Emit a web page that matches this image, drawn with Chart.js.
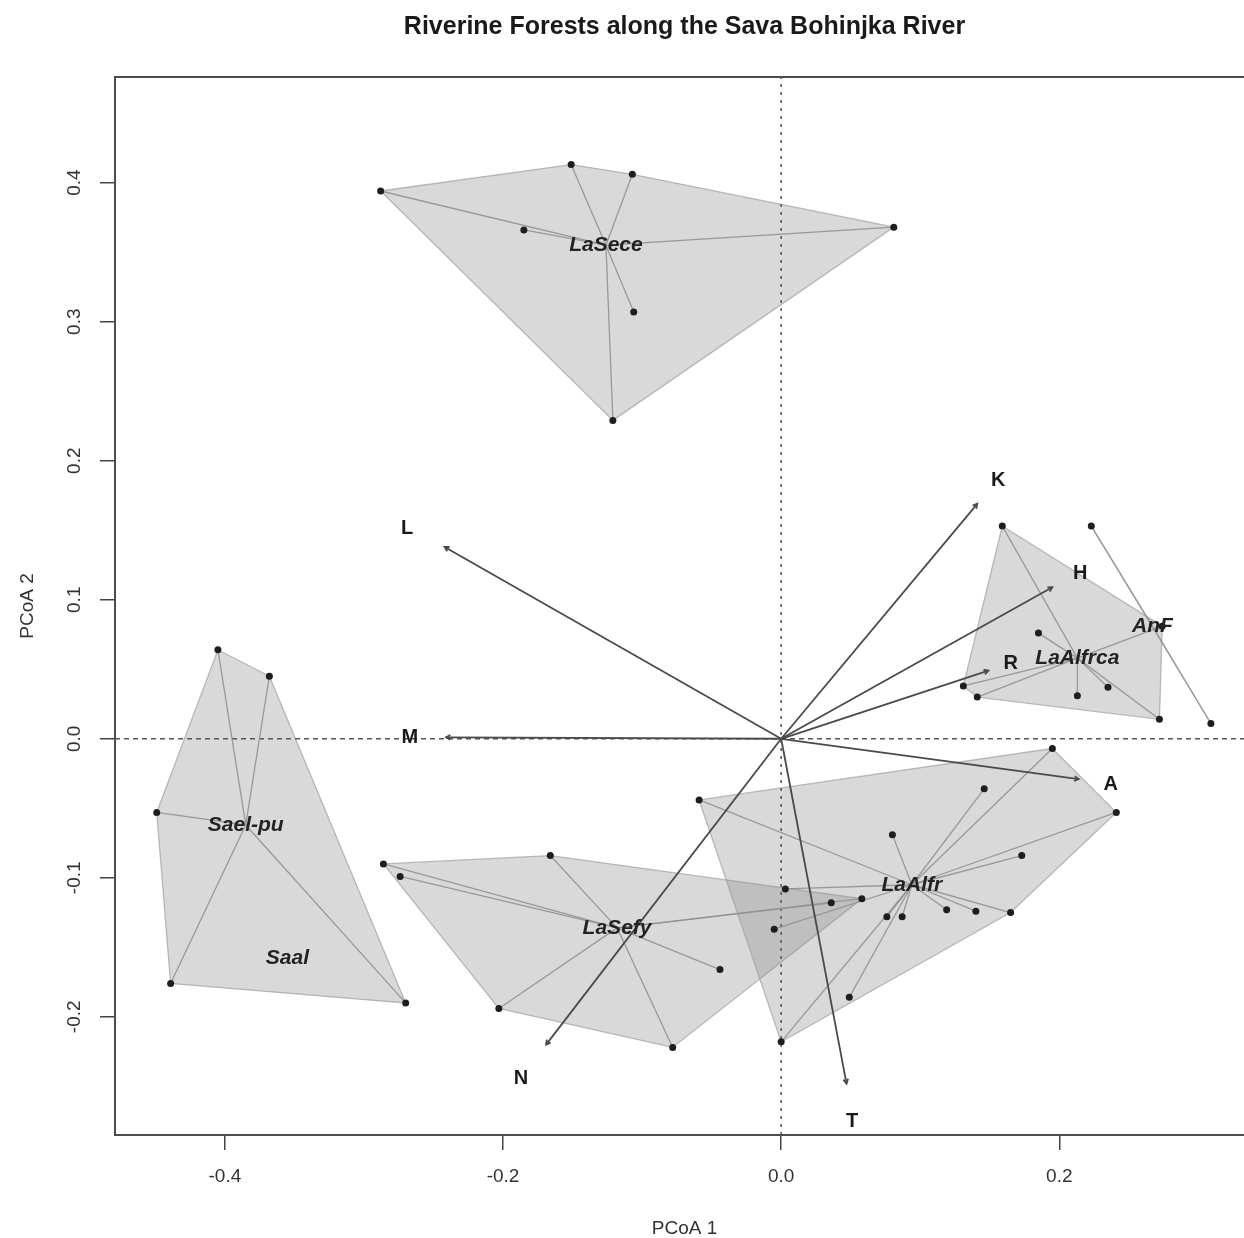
<!DOCTYPE html>
<html lang="en">
<head>
<meta charset="UTF-8" />
<title>Riverine Forests along the Sava Bohinjka River</title>
<script src="https://cdn.jsdelivr.net/npm/chart.js"></script>
<style>
  html, body { margin: 0; padding: 0; overflow: hidden; background: #fff; }
  #wrap { width: 1270px; height: 1238px; }
</style>
</head>
<body>
<div id="wrap"><canvas id="pcoa"></canvas></div>
<script>
// site scores per forest type (PCoA 1, PCoA 2)
const groupNames = ["LaSece", "LaAlfrca", "AnF", "LaAlfr", "LaSefy", "Sael-pu", "Saal"];

const laSeceX = [-0.288, -0.151, -0.107, -0.185, 0.081, -0.106, -0.121];
const laSeceY = [0.394, 0.413, 0.406, 0.366, 0.368, 0.307, 0.229];

const laAlfrcaX = [0.159, 0.185, 0.131, 0.141, 0.213, 0.235, 0.272, 0.274];
const laAlfrcaY = [0.153, 0.076, 0.038, 0.030, 0.031, 0.037, 0.014, 0.081];

const anfX = [0.223, 0.309];
const anfY = [0.153, 0.011];

const laAlfrX = [-0.059, 0.195, 0.241, 0.146, 0.080, 0.173, 0.003, -0.005, 0.076, 0.087, 0.119, 0.140, 0.165, 0.049, 0.000];
const laAlfrY = [-0.044, -0.007, -0.053, -0.036, -0.069, -0.084, -0.108, -0.137, -0.128, -0.128, -0.123, -0.124, -0.125, -0.186, -0.218];

const laSefyX = [-0.286, -0.274, -0.166, -0.203, -0.078, -0.044, 0.036, 0.058];
const laSefyY = [-0.090, -0.099, -0.084, -0.194, -0.222, -0.166, -0.118, -0.115];

const saelPuX = [-0.405, -0.368, -0.449, -0.439, -0.270];
const saelPuY = [0.064, 0.045, -0.053, -0.176, -0.190];

const saalX = [];
const saalY = [];

// group centroids (label positions)
const centroidX = [-0.126, 0.213, 0.267, 0.094, -0.118, -0.385, -0.355];
const centroidY = [0.355, 0.058, 0.081, -0.105, -0.136, -0.062, -0.158];

// fitted environmental vectors
const vectorNames = ["K", "H", "R", "A", "T", "N", "M", "L"];
const vectorX = [0.141, 0.195, 0.149, 0.214, 0.047, -0.169, -0.241, -0.242];
const vectorY = [0.169, 0.109, 0.049, -0.029, -0.248, -0.220, 0.001, 0.138];
const vectorLabelX = [0.156, 0.215, 0.165, 0.237, 0.051, -0.187, -0.267, -0.269];
const vectorLabelY = [0.186, 0.119, 0.054, -0.033, -0.275, -0.244, 0.001, 0.151];

const xTicks = [-0.4, -0.2, 0.0, 0.2];
const yTicks = [-0.2, -0.1, 0.0, 0.1, 0.2, 0.3, 0.4];
const xRange = [-0.479, 0.340];
const yRange = [-0.285, 0.476];

const groupX = [laSeceX, laAlfrcaX, anfX, laAlfrX, laSefyX, saelPuX, saalX];
const groupY = [laSeceY, laAlfrcaY, anfY, laAlfrY, laSefyY, saelPuY, saalY];

function hull(pts) {
  const p = pts.slice().sort((a, b) => a.x - b.x || a.y - b.y);
  if (p.length < 3) return p;
  const cross = (o, a, b) => (a.x - o.x) * (b.y - o.y) - (a.y - o.y) * (b.x - o.x);
  const lower = [], upper = [];
  for (const q of p) {
    while (lower.length >= 2 && cross(lower[lower.length - 2], lower[lower.length - 1], q) <= 0) lower.pop();
    lower.push(q);
  }
  for (let i = p.length - 1; i >= 0; i--) {
    const q = p[i];
    while (upper.length >= 2 && cross(upper[upper.length - 2], upper[upper.length - 1], q) <= 0) upper.pop();
    upper.push(q);
  }
  upper.pop(); lower.pop();
  return lower.concat(upper);
}

const datasets = [];
const allSites = [];

groupNames.forEach((name, g) => {
  const pts = groupX[g].map((x, i) => ({ x: x, y: groupY[g][i] }));
  allSites.push(...pts);
  if (pts.length >= 2) {
    const h = hull(pts);
    datasets.push({
      data: h.concat([h[0]]),
      fill: 'shape',
      backgroundColor: 'rgba(128,128,128,0.3)',
      borderColor: 'rgba(160,160,160,0.7)',
      borderWidth: 1.3,
      pointRadius: 0,
      order: 6
    });
  }
  const c = { x: centroidX[g], y: centroidY[g] };
  pts.forEach(p => {
    datasets.push({
      data: [c, p],
      borderColor: 'rgba(145,145,145,0.9)',
      borderWidth: 1.3,
      pointRadius: 0,
      order: 4
    });
  });
});

// zero lines
datasets.push({
  data: [{ x: xRange[0], y: 0 }, { x: xRange[1], y: 0 }],
  borderColor: '#555', borderWidth: 1.5, borderDash: [5, 4], pointRadius: 0, order: 5
});
datasets.push({
  data: [{ x: 0, y: yRange[0] }, { x: 0, y: yRange[1] }],
  borderColor: '#555', borderWidth: 1.5, borderDash: [3, 5], pointRadius: 0, order: 5
});

vectorNames.forEach((n, i) => {
  datasets.push({
    data: [{ x: 0, y: 0 }, { x: vectorX[i], y: vectorY[i] }],
    borderColor: '#4a4a4a', borderWidth: 1.8, pointRadius: 0, order: 3
  });
});

datasets.push({
  data: allSites,
  showLine: false,
  pointRadius: 3.5,
  pointBackgroundColor: '#1e1e1e',
  pointBorderWidth: 0,
  order: 2
});

const decor = {
  id: 'decor',
  afterDatasetsDraw(chart) {
    const { ctx, scales: { x, y } } = chart;
    ctx.save();
    // small arrow heads
    ctx.strokeStyle = '#4a4a4a';
    ctx.lineWidth = 1.8;
    vectorNames.forEach((n, i) => {
      const x0 = x.getPixelForValue(0), y0 = y.getPixelForValue(0);
      const x1 = x.getPixelForValue(vectorX[i]), y1 = y.getPixelForValue(vectorY[i]);
      const a = Math.atan2(y1 - y0, x1 - x0);
      ctx.beginPath();
      ctx.moveTo(x1 - 5 * Math.cos(a - 0.5), y1 - 5 * Math.sin(a - 0.5));
      ctx.lineTo(x1, y1);
      ctx.lineTo(x1 - 5 * Math.cos(a + 0.5), y1 - 5 * Math.sin(a + 0.5));
      ctx.stroke();
    });
    ctx.textAlign = 'center';
    ctx.textBaseline = 'middle';
    ctx.fillStyle = '#1a1a1a';
    ctx.font = 'bold 20px "Liberation Sans", Arial, sans-serif';
    vectorNames.forEach((n, i) => {
      ctx.fillText(n, x.getPixelForValue(vectorLabelX[i]), y.getPixelForValue(vectorLabelY[i]));
    });
    ctx.fillStyle = '#222';
    ctx.font = 'italic bold 21px "Liberation Sans", Arial, sans-serif';
    groupNames.forEach((n, g) => {
      ctx.fillText(n, x.getPixelForValue(centroidX[g]), y.getPixelForValue(centroidY[g]));
    });
    ctx.restore();
  },
  afterDraw(chart) {
    const { ctx, chartArea: a, scales: { y } } = chart;
    ctx.save();
    ctx.strokeStyle = '#4d4d4d';
    ctx.lineWidth = 2;
    ctx.strokeRect(a.left, a.top, a.right - a.left, a.bottom - a.top);
    // y tick labels, parallel to the axis as in base graphics
    ctx.fillStyle = '#333';
    ctx.font = '19px "Liberation Sans", Arial, sans-serif';
    ctx.textAlign = 'center';
    ctx.textBaseline = 'middle';
    yTicks.forEach(v => {
      ctx.save();
      ctx.translate(75, y.getPixelForValue(v));
      ctx.rotate(-Math.PI / 2);
      ctx.fillText(v.toFixed(1), 0, 0);
      ctx.restore();
    });
    ctx.restore();
  }
};

new Chart(document.getElementById('pcoa'), {
  type: 'line',
  data: { datasets: datasets },
  plugins: [decor],
  options: {
    responsive: true,
    maintainAspectRatio: false,
    animation: false,
    events: [],
    layout: { padding: { top: 0, right: 16, bottom: 0, left: 0 } },
    elements: { line: { tension: 0 } },
    plugins: {
      legend: { display: false },
      tooltip: { enabled: false },
      title: {
        display: true,
        fullSize: false,
        text: 'Riverine Forests along the Sava Bohinjka River',
        color: '#1a1a1a',
        font: { family: '"Liberation Sans", Arial, sans-serif', size: 25, weight: 'bold', lineHeight: 1.2 },
        padding: { top: 12, bottom: 35 }
      }
    },
    scales: {
      x: {
        type: 'linear',
        min: xRange[0],
        max: xRange[1],
        afterBuildTicks: s => { s.ticks = xTicks.map(v => ({ value: v })); },
        afterFit: s => { s.height = 103; },
        grid: { drawOnChartArea: false, tickLength: 15, color: '#444', lineWidth: 1.5 },
        border: { display: false },
        ticks: {
          color: '#333',
          padding: 15,
          font: { family: '"Liberation Sans", Arial, sans-serif', size: 19 },
          callback: v => v.toFixed(1)
        },
        title: {
          display: true,
          text: 'PCoA 1',
          color: '#333',
          font: { family: '"Liberation Sans", Arial, sans-serif', size: 19, lineHeight: 1 },
          padding: { top: 0, bottom: 0 }
        }
      },
      y: {
        type: 'linear',
        min: yRange[0],
        max: yRange[1],
        afterBuildTicks: s => { s.ticks = yTicks.map(v => ({ value: v })); },
        afterFit: s => { s.width = 115; },
        grid: { drawOnChartArea: false, tickLength: 15, color: '#444', lineWidth: 1.5 },
        border: { display: false },
        ticks: { display: false },
        title: {
          display: true,
          text: 'PCoA 2',
          color: '#333',
          font: { family: '"Liberation Sans", Arial, sans-serif', size: 19, lineHeight: 1 },
          padding: { top: 18, bottom: 0 }
        }
      }
    }
  }
});
</script>
</body>
</html>
